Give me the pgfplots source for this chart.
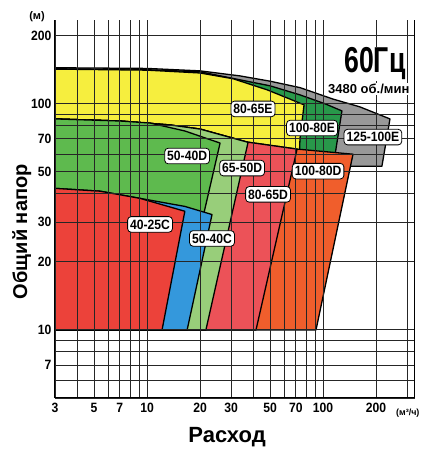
\documentclass[border=0pt]{standalone}
\usepackage{fontspec}
\setmainfont{Liberation Sans}
\newfontfamily\condfont{Liberation Sans}[FakeStretch=0.74]
\newfontfamily\lblfont{Liberation Sans}[FakeStretch=0.9]
\usepackage{pgfplots}
\pgfplotsset{compat=1.18}
\definecolor{cgray}{RGB}{152,152,152}
\definecolor{cdkgreen}{RGB}{40,152,74}
\definecolor{cyellow}{RGB}{246,238,62}
\definecolor{corange}{RGB}{240,94,44}
\definecolor{cpink}{RGB}{236,82,88}
\definecolor{cltgreen}{RGB}{152,206,122}
\definecolor{cgreen}{RGB}{94,186,78}
\definecolor{cblue}{RGB}{52,152,220}
\definecolor{cred}{RGB}{236,66,58}
\tikzset{
  lbl/.style={fill=white, draw=black, line width=0.8pt, rounded corners=3.5pt,
    inner xsep=2.5pt, inner ysep=3pt, font=\lblfont\bfseries\fontsize{13.5}{13.5}\selectfont},
  reg/.style={draw=black, line width=1.3pt, line join=round},
}
\begin{document}
\begin{tikzpicture}
\begin{axis}[
  at={(0pt,0pt)}, anchor=south west,
  scale only axis, width=360pt, height=378pt,
  xmode=log, ymode=log,
  xmin=3, xmax=333, ymin=5, ymax=235,
  axis on top, clip=false,
  axis x line*=bottom,
  axis line style={black, line width=1pt},
  xtick={3,5,7,10,20,30,50,70,100,200},
  xticklabels={3,5,7,10,20,30,50,70,100,200},
  minor xtick={4,6,8,9,40,60,80,90,300},
  ytick={7,10,20,30,50,70,100,200},
  yticklabels={7,10,20,30,50,70,100,200},
  minor ytick={5,6,8,9,40,60,80,90},
  grid=both,
  major grid style={black!85, line width=0.9pt},
  minor grid style={black!85, line width=0.9pt},
  major tick length=0pt, minor tick length=0pt,
  /pgf/number format/assume math mode=true,
  xticklabel style={font=\lblfont\bfseries\fontsize{13.5}{13.5}\selectfont, yshift=-2pt},
  yticklabel style={font=\lblfont\bfseries\fontsize{13.5}{13.5}\selectfont},
]
% E group
\addplot[reg, fill=cgray] coordinates {(3,144.5) (10,143.5) (20,140) (33.7,133) (50,126) (74,118) (114,105) (162,97) (240,85.8) (216,53) (117,53) (117,45.5) (3,45.5) (3,144.5)};
\addplot[reg, fill=cdkgreen] coordinates {(3,143) (10,141.6) (20,138.7) (33.7,127.8) (50,120.2) (74,109.6) (103,100) (128,93.1) (115.5,55.8) (109.6,47.9) (3,47.9) (3,143)};
\addplot[reg, fill=cyellow] coordinates {(3,142.5) (10,141) (20,137) (30.8,129.2) (48.1,115.4) (64.9,105) (78,99) (74,70.6) (73.1,55.8) (3,55.8) (3,142.5)};
% D group
\addplot[reg, fill=corange] coordinates {(3,85.8) (7.03,84) (13.5,80.7) (20,77.4) (37,67.8) (71.2,63.1) (148,59.9) (91.2,10) (3,10) (3,85.8)};
\addplot[reg, fill=cpink] coordinates {(3,85.8) (7.03,84) (13.5,80.7) (20,77.4) (37,67.8) (71.2,63.1) (41.6,10) (3,10) (3,85.8)};
\addplot[reg, fill=cltgreen] coordinates {(3,85.8) (7.03,84) (13.5,80.7) (20,77.4) (37.5,67.6) (21.6,10) (3,10) (3,85.8)};
\addplot[reg, fill=cgreen] coordinates {(3,85.8) (7.03,84) (10.4,82.3) (16.4,75.9) (26,67.1) (14.8,10) (3,10) (3,85.8)};
% C group
\addplot[reg, fill=cblue] coordinates {(3,42.3) (5.41,41.1) (9.13,38.2) (16.4,35.2) (23.4,32.4) (16.9,10) (3,10) (3,42.3)};
\addplot[reg, fill=cred] coordinates {(3,42.3) (5.41,41.1) (9.13,38.2) (16.4,33.5) (12.17,10) (3,10) (3,42.3)};
% label anchors
\coordinate (L1) at (axis cs:40,95);
\coordinate (L2) at (axis cs:86.6,78.2);
\coordinate (L3) at (axis cs:192,71.3);
\coordinate (L4) at (axis cs:16.9,58.8);
\coordinate (L5) at (axis cs:34.7,52);
\coordinate (L6) at (axis cs:48.7,39.8);
\coordinate (L7) at (axis cs:93.7,50.4);
\coordinate (L8) at (axis cs:10.4,29.3);
\coordinate (L9) at (axis cs:23.4,25.4);
\coordinate (T1) at (axis cs:197,150.6);
\coordinate (T2) at (axis cs:182,116.6);
\node[font=\bfseries\fontsize{11}{11}\selectfont] at (rel axis cs:-0.05,1.01) {(м)};
\node[font=\bfseries\fontsize{9}{9}\selectfont] at (rel axis cs:0.98,-0.04) {(м³/ч)};
\node[rotate=90, font=\bfseries\fontsize{20}{20}\selectfont] at (rel axis cs:-0.092,0.44) {Общий напор};
\node[font=\bfseries\fontsize{22}{22}\selectfont] at (rel axis cs:0.478,-0.103) {Расход};
\end{axis}
\node[lbl] at (L1) {80-65E};
\node[lbl] at (L2) {100-80E};
\node[lbl] at (L3) {125-100E};
\node[lbl] at (L4) {50-40D};
\node[lbl] at (L5) {65-50D};
\node[lbl] at (L6) {80-65D};
\node[lbl] at (L7) {100-80D};
\node[lbl] at (L8) {40-25C};
\node[lbl] at (L9) {50-40C};
\node[fill=white, inner sep=1pt, font=\condfont\bfseries\fontsize{36}{36}\selectfont] at (T1) {60Гц};
\node[fill=white, inner sep=1pt, font=\bfseries\fontsize{13}{13}\selectfont] at (T2) {3480 об./мин};
\pgfresetboundingbox
\path[use as bounding box] (-55pt,-53pt) rectangle (372pt,398pt);
\end{tikzpicture}
\end{document}
